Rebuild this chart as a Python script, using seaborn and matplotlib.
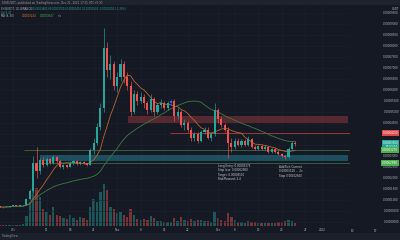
import numpy as np
import pandas as pd
import matplotlib
matplotlib.use("Agg")
import matplotlib.pyplot as plt
import matplotlib.transforms as mtransforms
from matplotlib.patches import Rectangle
import seaborn as sns

# ---------------- data (daily candles, SHIB/USDT; prices in 1e-6 USDT) ----------------
day = list(range(-4, 85))  # days since 1 Oct 2021
opens = [6.9, 6.8, 6.7, 7.0, 7.2, 7.6, 7.3, 7.5, 7.7, 10.5,
         14.0, 27.0, 23.0, 28.0, 26.0, 28.5, 27.0, 29.5, 27.5, 25.0,
         26.0, 25.0, 27.0, 27.5, 26.5, 27.2, 26.6, 26.0, 32.5, 36.0,
         43.0, 52.0, 79.0, 69.0, 72.0, 62.0, 66.0, 72.0, 66.0, 62.0,
         50.0, 58.0, 55.0, 57.0, 54.0, 51.0, 56.0, 50.0, 53.0, 54.0,
         52.0, 54.0, 55.0, 48.0, 50.0, 44.0, 45.0, 42.0, 38.0, 40.0,
         37.0, 41.0, 42.0, 38.0, 40.0, 51.0, 47.0, 44.0, 42.0, 36.0,
         34.0, 37.0, 35.0, 37.0, 35.0, 37.5, 34.0, 33.0, 34.5, 33.0,
         34.0, 32.0, 33.0, 32.0, 31.0, 30.0, 29.5, 33.0, 36.0]
highs = [7.1, 7.0, 7.2, 7.3, 7.8, 7.7, 7.6, 7.9, 11.0, 15.0,
         30.0, 34.0, 29.0, 29.5, 29.5, 29.0, 30.5, 30.0, 28.0, 26.5,
         26.5, 27.5, 28.0, 28.0, 27.5, 27.8, 27.0, 33.5, 38.0, 45.0,
         54.0, 88.0, 82.0, 76.0, 73.0, 68.0, 74.0, 73.0, 68.0, 64.0,
         60.0, 59.5, 59.0, 58.0, 55.0, 58.0, 57.0, 54.0, 56.0, 55.0,
         55.0, 56.0, 56.0, 52.0, 51.0, 47.0, 46.0, 43.0, 41.0, 41.0,
         42.0, 43.0, 43.0, 41.0, 54.0, 52.0, 48.0, 45.0, 43.0, 38.0,
         38.0, 38.0, 37.5, 37.5, 39.0, 38.0, 35.0, 35.0, 35.0, 35.0,
         34.5, 33.5, 33.5, 32.5, 31.5, 30.5, 34.0, 37.0, 37.0]
lows = [6.7, 6.5, 6.6, 6.9, 7.1, 7.2, 7.2, 7.3, 7.6, 10.2,
        13.5, 20.0, 22.0, 25.0, 25.5, 26.5, 26.5, 27.0, 24.5, 24.2,
        24.5, 24.8, 26.0, 26.0, 26.0, 26.2, 25.6, 25.8, 31.0, 35.0,
        42.0, 50.0, 66.0, 65.0, 60.0, 59.0, 64.0, 63.0, 60.0, 48.0,
        49.0, 53.0, 54.0, 52.0, 49.0, 50.0, 48.0, 49.0, 52.0, 51.0,
        51.0, 53.0, 46.0, 47.0, 43.0, 42.0, 41.0, 37.0, 37.0, 36.0,
        36.5, 40.0, 37.5, 37.0, 39.0, 45.0, 43.0, 41.0, 29.0, 32.0,
        33.0, 34.5, 34.0, 34.5, 34.5, 33.5, 32.5, 32.5, 32.5, 32.5,
        31.5, 31.5, 31.5, 30.5, 29.5, 28.5, 29.0, 32.5, 34.5]
closes = [6.8, 6.7, 7.0, 7.2, 7.6, 7.3, 7.5, 7.7, 10.5, 14.0,
          27.0, 23.0, 28.0, 26.0, 28.5, 27.0, 29.5, 27.5, 25.0, 26.0,
          25.0, 27.0, 27.5, 26.5, 27.2, 26.6, 26.0, 32.5, 36.0, 43.0,
          52.0, 79.0, 69.0, 72.0, 62.0, 66.0, 72.0, 66.0, 62.0, 50.0,
          58.0, 55.0, 57.0, 54.0, 51.0, 56.0, 50.0, 53.0, 54.0, 52.0,
          54.0, 55.0, 48.0, 50.0, 44.0, 45.0, 42.0, 38.0, 40.0, 37.0,
          41.0, 42.0, 38.0, 40.0, 51.0, 47.0, 44.0, 42.0, 36.0, 34.0,
          37.0, 35.0, 37.0, 35.0, 37.5, 34.0, 33.0, 34.5, 33.0, 34.0,
          32.0, 33.0, 32.0, 31.0, 30.0, 29.5, 33.0, 36.0, 35.5]
volume = [1.0, 1.2, 1.0, 1.0, 1.5, 1.2, 1.0, 2.0, 10, 25,
          48, 40, 30, 18, 15, 12, 20, 12, 10, 8,
          7, 12, 8, 6, 9, 8, 6, 20, 28, 25,
          35, 44, 38, 20, 18, 14, 15, 11, 9, 18,
          12, 7, 6, 7, 6, 10, 8, 5, 5, 4,
          4, 4, 8, 5, 9, 6, 5, 7, 5, 6,
          6, 5, 5, 4, 15, 8, 6, 5, 14, 9,
          6, 4, 4, 3, 5, 4, 4, 3, 3, 3,
          3, 3, 3, 4, 4, 5, 6, 5, 3]
highlight_day = 47  # candle marked in blue

# x-axis (time) labels
tick_days = [0, 10, 17, 24, 31, 38, 45, 52, 61, 66, 73, 80, 87, 92]
tick_labels = ["Oct", "11", "18", "25", "Nov", "8", "15", "22", "Dec", "6", "13", "20", "27", "2022"]
extra_tick_days = [101, 108]
extra_tick_labels = ["10", "17"]
price_ticks = list(range(0, 100, 5))

# drawn zones and levels
red_zone = (34.2, 45.0, 48.2)      # start day, low, high
teal_zone = (8.0, 27.9, 30.4)
level_prices = [40.5, 32.7, 26.8]
level_starts = [46.7, 3.3, 8.0]
level_colors = ["#b23a3a", "#3d6b3d", "#3d6b3d"]

# ---------------- style ----------------
sns.set_theme(style="dark")
plt.rcParams["font.family"] = ["DejaVu Sans"]
BG = "#151924"
UP = "#26a69a"
DN = "#ef5350"
TXT = "#b2b5be"
GRID = "#1d2130"
FS = 2.0

df = pd.DataFrame({"day": day, "open": opens, "high": highs, "low": lows,
                   "close": closes, "volume": volume})
df["ma_fast"] = df["close"].rolling(9, min_periods=1).mean()
df["ma_slow"] = df["close"].rolling(30, min_periods=1).mean()
up = df["close"] >= df["open"]
colors = np.where(up, UP, DN).astype(object)
colors[df["day"] == highlight_day] = "#2962ff"

fig = plt.figure(figsize=(4, 2.4), dpi=100)
fig.patch.set_facecolor(BG)

# axes spans x 0..350 px, y 5..226 px (from top)
ax = fig.add_axes([0, 14 / 240, 350 / 400, 221 / 240])
axv = ax.twinx()
ax.set_zorder(axv.get_zorder() + 1)
ax.patch.set_visible(False)
axv.set_facecolor(BG)
axv.patch.set_visible(True)

xmin, xmax = -3.87, 100.3
ax.set_xlim(xmin, xmax)
ax.set_ylim(-1.82, 98.6)

# volume
axv.bar(df["day"], df["volume"], width=0.7,
        color=np.where(up, UP, DN), alpha=0.45, linewidth=0)
axv.set_ylim(0, max(volume) * 221 / 46)
axv.set_yticks([])
axv.grid(False)
for s in axv.spines.values():
    s.set_visible(False)

# grid
for p in price_ticks:
    ax.axhline(p, color=GRID, lw=0.4, zorder=0)
for d in tick_days:
    ax.axvline(d, color=GRID, lw=0.4, zorder=0)
ax.grid(False)

# zones
rz = Rectangle((red_zone[0], red_zone[1]), xmax - 0.6 - red_zone[0], red_zone[2] - red_zone[1],
               facecolor="#e04848", alpha=0.32, edgecolor="none", zorder=1)
tz = Rectangle((teal_zone[0], teal_zone[1]), xmax - 0.6 - teal_zone[0], teal_zone[2] - teal_zone[1],
               facecolor="#2aa6c0", alpha=0.38, edgecolor="none", zorder=1)
ax.add_patch(rz)
ax.add_patch(tz)
for lv, st, c in zip(level_prices, level_starts, level_colors):
    ax.hlines(lv, st, xmax, color=c, lw=0.6, zorder=2)

# moving averages
sns.lineplot(data=df, x="day", y="ma_fast", ax=ax, color="#b8652e", lw=0.6, zorder=3)
sns.lineplot(data=df, x="day", y="ma_slow", ax=ax, color="#3f7a45", lw=0.6, zorder=3)

# candles
ax.vlines(df["day"], df["low"], df["high"], colors=colors, lw=0.45, zorder=4)
body_lo = np.minimum(df["open"], df["close"])
body_h = np.maximum(np.abs(df["close"] - df["open"]), 0.25)
ax.bar(df["day"], body_h, bottom=body_lo, width=0.62, color=colors, linewidth=0, zorder=5)

ax.set_xlabel("")
ax.set_ylabel("")
for s in ax.spines.values():
    s.set_visible(False)

last = df.iloc[-1]
tag_prices = [level_prices[0], last["close"], level_prices[1], level_prices[2]]

# price axis labels on the right (hidden where a price tag covers them)
ax.yaxis.tick_right()
ax.set_yticks(price_ticks)
ylabels = []
for p in price_ticks:
    covered = any(abs(p - tp) < 1.6 for tp in tag_prices)
    ylabels.append("" if covered else f"{p * 1e-6:.8f}")
ax.set_yticklabels(ylabels)
ax.tick_params(axis="y", length=0, pad=35.2, labelsize=FS, labelcolor=TXT,
               left=False, labelleft=False, right=False, labelright=True)
for lbl in ax.get_yticklabels():
    lbl.set_horizontalalignment("right")
ax.set_xticks(tick_days)
ax.set_xticklabels(tick_labels)
ax.tick_params(axis="x", length=0, pad=1.2, labelsize=FS, labelcolor=TXT)
for d, lab in zip(extra_tick_days, extra_tick_labels):
    ax.text(d, -0.012, lab, transform=mtransforms.blended_transform_factory(ax.transData, ax.transAxes),
            ha="center", va="top", fontsize=FS, color=TXT, clip_on=False)

# price tags at right
trans = mtransforms.blended_transform_factory(fig.transFigure, ax.transData)
tags = [(level_prices[0], "#e04848", f"{level_prices[0] * 1e-6:.8f}"),
        (last["close"] - 0.6, "#26a69a", f"{last['close'] * 1e-6:.8f}\n11:52:04"),
        (level_prices[1], "#4caf50", f"{level_prices[1] * 1e-6:.8f}"),
        (level_prices[2], "#4caf50", f"{level_prices[2] * 1e-6:.8f}")]
for p, c, t in tags:
    fig.text(0.9955, p, t, transform=trans, fontsize=FS, color="white", va="center", ha="right",
             linespacing=1.0, bbox=dict(boxstyle="square,pad=0.3", fc=c, ec="none"))
fig.text(0.997, 1 - 9 / 240, "USDT", fontsize=FS, color=TXT, ha="right", va="center")

# annotations
ax.text(61.0, 26.4, "Long Entry: 0.00003375\nStop loss: 0.00002900\nTarget: 0.00004500\nRisk/Reward: 2.4",
        fontsize=FS, color="#c8cad2", va="top", ha="left", linespacing=1.15, zorder=6)
ax.text(79.2, 25.9, "Add/Exit Current\n0.00003120 ... 2x\nStop 0.00002650",
        fontsize=FS, color="#c8cad2", va="top", ha="left", linespacing=1.15, zorder=6)

# header bar and legend lines
fig.patches.append(Rectangle((0, 1 - 5 / 240), 1, 5 / 240, transform=fig.transFigure,
                             facecolor="#1f232e", edgecolor="none", zorder=0))
fig.patches.append(Rectangle((0, 0), 1, 7 / 240, transform=fig.transFigure,
                             facecolor="#1c202b", edgecolor="none", zorder=0))
fig.text(0.004, 1 - 2.6 / 240, "SHIBUSDT, published on TradingView.com, Dec 21, 2021 17:05 UTC+5:30",
         fontsize=FS, color="#9598a1", va="center")
o, h, l, c = last["open"], last["high"], last["low"], last["close"]
prev = df.iloc[-2]["close"]
chg = c - prev
fig.text(0.003, 1 - 9 / 240, "SHIBUSDT, 1D, BINANCE", fontsize=1.8, color="#b2b5be", va="center")
vals = (f"O{o * 1e-6:.8f} H{h * 1e-6:.8f} L{l * 1e-6:.8f} C{c * 1e-6:.8f} "
        f"{chg * 1e-6:+.8f} ({chg / prev * 100:+.2f}%)")
fig.text(0.077, 1 - 9 / 240, vals, fontsize=1.8, color=UP, va="center")
fig.text(0.003, 1 - 12.5 / 240, "Vol 3.4T", fontsize=1.8, color=UP, va="center")
fig.text(0.003, 1 - 16 / 240, "MA (9, 30)", fontsize=1.8, color="#b2b5be", va="center")
fig.text(0.055, 1 - 16 / 240, f"{df['ma_fast'].iloc[-1] * 1e-6:.8f}", fontsize=1.8, color="#e07b2c", va="center")
fig.text(0.100, 1 - 16 / 240, f"{df['ma_slow'].iloc[-1] * 1e-6:.8f}", fontsize=1.8, color="#4caf50", va="center")
fig.text(0.145, 1 - 16 / 240, "n/a", fontsize=1.8, color="#9598a1", va="center")
fig.text(0.004, 1 - 236.5 / 240, "TradingView", fontsize=FS, color="#9598a1", va="center")

fig.savefig("out.png", dpi=100, facecolor=BG)
